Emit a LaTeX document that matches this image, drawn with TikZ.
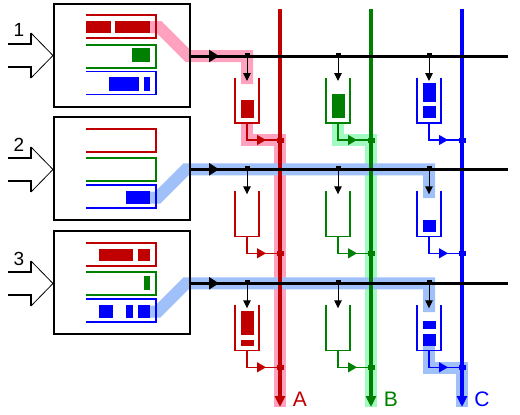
\documentclass[tikz,border=0pt]{standalone}
\usepackage{fontspec}
\setmainfont{Liberation Sans}
\usetikzlibrary{arrows.meta,decorations.markings}
\definecolor{cR}{RGB}{192,0,0}
\definecolor{cG}{RGB}{0,128,0}
\definecolor{cB}{RGB}{0,0,255}
\definecolor{hR}{RGB}{255,162,192}
\definecolor{hG}{RGB}{162,250,194}
\definecolor{hB}{RGB}{160,192,250}
\tikzset{
  hl/.style={line width=12pt, line join=miter},
  bigbox/.style={draw, line width=2pt, rectangle, minimum width=136pt, minimum height=103pt, inner sep=0pt},
  bus/.style={line width=3pt},
  vline/.style={line width=3.5pt, -{Triangle[length=11pt,width=10pt]}},
  tapline/.style={line width=1pt, {Square[length=3pt,width=5pt]}-{Triangle[length=8pt,width=7.5pt]}},
  cupline/.style={line width=1.3pt},
  outl/.style={line width=1.3pt, -{Square[length=7pt,width=5pt]}},
  brk/.style={line width=1.5pt},
  midarrow/.style={postaction={decorate},decoration={markings,mark=at position #1 with {\arrow{Triangle[length=9pt,width=10pt]}}}},
  busarrow/.style={postaction={decorate},decoration={markings,mark=at position #1 with {\arrow{Triangle[length=10pt,width=12pt]}}}},
  inarrow/.style={line width=2pt},
  inhead/.style={line width=0.8pt},
  numlbl/.style={font=\fontsize{19}{19}\selectfont, inner sep=0pt},
  chlbl/.style={font=\fontsize{21}{21}\selectfont, inner sep=0pt}
}
\begin{document}
\begin{tikzpicture}[x=1pt,y=-1pt]
\useasboundingbox (0,0) rectangle (520,415);

% highlight bands
\draw[hl,hR] (150,27) -- (159,27) -- (188,56) -- (247,56) -- (247,84);
\draw[hl,hR] (247,123) |- (280,140) -- (280,407);
\draw[hl,hG] (338,123) |- (371,140) -- (371,407);
\draw[hl,hB] (150,197.5) -- (158,197.5) -- (186,169.3) -- (429,169.3) -- (429,198);
\draw[hl,hB] (150,311.5) -- (158,311.5) -- (186,283.3) -- (429,283.3) -- (429,312);
\draw[hl,hB] (429,345) |- (462,368) -- (462,407);

% boxes
\node[bigbox] (box1) at (122,55.5) {};
\node[bigbox] (box2) at (122,168.5) {};
\node[bigbox] (box3) at (122,282.5) {};

% input arrows
\foreach \ty/\n [count=\i] in {55.5/1,169.5/2,283.5/3}{
  \draw[inarrow] (8,\ty-11.5) -| (31,\ty-22.5);
  \draw[inhead] (31,\ty-22.5) -- (53,\ty) -- (31,\ty+22.5);
  \draw[inarrow] (31,\ty+22.5) |- (8,\ty+11.5);
}
\node[numlbl] (n1) at (19,30) {1};
\node[numlbl] (n2) at (19,145) {2};
\node[numlbl] (n3) at (19,258.5) {3};

% brackets inside boxes
\foreach \t/\c in {15/cR,45/cG,71.5/cB,129/cR,158/cG,185/cB,243/cR,272/cG,299/cB}{
  \draw[brk,\c] (86,\t) -| (156,\t+23) -- (86,\t+23);
}
% fills box 1
\fill[cR] (86,21) rectangle (111,33);
\fill[cR] (115,21) rectangle (150,33);
\fill[cG] (132,48) rectangle (150,62);
\fill[cB] (109,77) rectangle (139,91);
\fill[cB] (144,77) rectangle (150,91);
% fills box 2
\fill[cB] (126,191) rectangle (150,204);
% fills box 3
\fill[cR] (99,249) rectangle (133,261);
\fill[cR] (138,249) rectangle (150,261);
\fill[cG] (144,276) rectangle (150,290);
\fill[cB] (99,305) rectangle (113,318);
\fill[cB] (126,305) rectangle (133,318);
\fill[cB] (138,305) rectangle (150,318);

% output vertical lines
\draw[vline,cR] (280,9) -- (280,407);
\draw[vline,cG] (371,9) -- (371,407);
\draw[vline,cB] (462,9) -- (462,407);

% buses, taps, cups, outputs
\foreach \by in {56,169.3,283.3}{
  \draw[bus, busarrow=29pt] (190,\by) -- (508,\by);
  \foreach \cx/\vx/\col in {247/280/cR,338/371/cG,429/462/cB}{
    \draw[tapline] (\cx,\by-3) -- (\cx,\by+25);
    \draw[cupline,\col] (\cx-12,\by+21.5) |- (\cx+12,\by+67) -- (\cx+12,\by+21.5);
    \draw[outl,\col, midarrow=36pt] (\cx,\by+67) |- (\vx+4,\by+84);
  }
}

% cup fills
\fill[cR] (240.5,100) rectangle (253.5,118);
\fill[cG] (331.5,94) rectangle (344.5,118);
\fill[cB] (422.5,83) rectangle (435.5,102);
\fill[cB] (422.5,106) rectangle (435.5,118);
\fill[cB] (422.5,220) rectangle (435.5,232);
\fill[cR] (240.5,311) rectangle (253.5,335);
\fill[cR] (240.5,340) rectangle (253.5,346);
\fill[cB] (422.5,321) rectangle (435.5,329);
\fill[cB] (422.5,334) rectangle (435.5,346);

% labels
\node[chlbl,text=cR] (lA) at (300,399.5) {A};
\node[chlbl,text=cG] (lB) at (391,399.5) {B};
\node[chlbl,text=cB] (lC) at (482,399.5) {C};
\end{tikzpicture}
\end{document}
